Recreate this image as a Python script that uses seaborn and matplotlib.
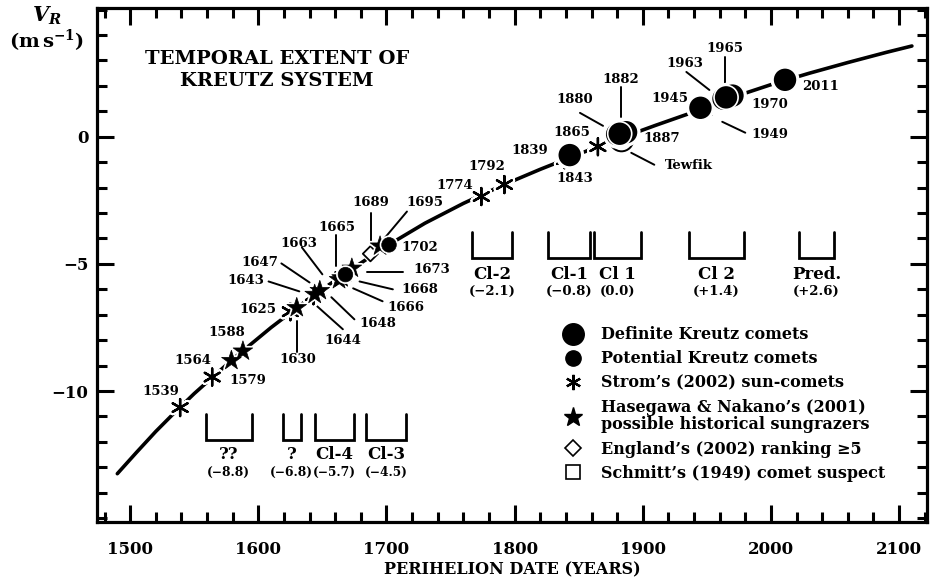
import numpy as np
import pandas as pd
import matplotlib
matplotlib.use("Agg")
import matplotlib.pyplot as plt
import matplotlib.patheffects as pe
from matplotlib.lines import Line2D
from matplotlib.ticker import MultipleLocator, FixedLocator
import seaborn as sns

# smooth V_R trend
curve_year = [1490, 1505, 1520, 1535, 1550, 1580, 1610, 1640, 1670, 1700, 1730, 1760,
              1790, 1820, 1850, 1880, 1910, 1940, 1970, 2000, 2030, 2060, 2090, 2110]
curve_vr = [-13.25, -12.41, -11.59, -10.83, -10.1, -8.75, -7.5, -6.35, -5.3, -4.3,
            -3.4, -2.62, -1.92, -1.28, -0.68, -0.1, 0.45, 0.98, 1.55, 2.05, 2.5,
            2.92, 3.32, 3.57]

# comets by category
strom_year = [1539, 1564, 1625, 1643, 1647, 1666, 1774, 1792, 1839, 1865]
strom_vr = [-10.65, -9.45, -6.88, -6.25, -6.1, -5.5, -2.35, -1.88, -0.9, -0.39]

hn_year = [1579, 1588, 1630, 1644, 1648, 1663, 1665, 1673, 1695]
hn_vr = [-8.8, -8.43, -6.72, -6.2, -6.05, -5.62, -5.55, -5.17, -4.3]

potential_year = [1668, 1702]
potential_vr = [-5.42, -4.25]

definite_year = [1843, 1880, 1887, 1882, 1945, 1963, 1970, 1965, 2011]
definite_vr = [-0.72, 0.1, 0.18, 0.12, 1.14, 1.5, 1.62, 1.55, 2.24]

tewfik_year = [1883]
tewfik_vr = [-0.1]

england_year = [1687.5]
england_vr = [-4.6]

schmitt_year = [1949.5]
schmitt_vr = [1.08]

# year labels: text, x, y
label_text = ["1539", "1564", "1579", "1588", "1625", "1630", "1643", "1647", "1663",
              "1665", "1689", "1695", "1702", "1673", "1668", "1666", "1648", "1644",
              "1774", "1792", "1839", "1843", "1865", "1880", "1882", "1887", "Tewfik",
              "1945", "1963", "1965", "1970", "1949", "2011"]
label_x = [1524, 1549, 1592, 1575, 1600, 1631, 1590, 1601, 1632,
           1661, 1688, 1730, 1726, 1735, 1726, 1715, 1693, 1666,
           1753, 1778, 1812, 1847, 1844.5, 1847, 1883, 1915, 1936,
           1921, 1932.6, 1964, 1999, 1999, 2038.6]
label_y = [-10.0, -8.8, -9.57, -7.69, -6.78, -8.75, -5.65, -4.94, -4.2,
           -3.57, -2.59, -2.59, -4.35, -5.2, -6.0, -6.7, -7.33, -8.0,
           -1.92, -1.18, -0.55, -1.65, 0.16, 1.45, 2.27, -0.08, -1.14,
           1.49, 2.9, 3.49, 1.25, 0.08, 1.96]

# leader lines (x0, y0, x1, y1)
leaders = [(1630, -7.25, 1630, -8.45), (1608, -5.69, 1632, -6.08),
           (1618, -4.98, 1640, -5.73), (1634, -4.35, 1650, -5.41),
           (1661, -3.88, 1661, -5.1), (1688, -2.98, 1688, -4.15),
           (1716, -2.94, 1697, -4.08), (1685, -5.3, 1713, -5.3),
           (1679, -5.69, 1705, -6.0), (1674, -5.96, 1697, -6.47),
           (1657, -6.31, 1675, -7.18), (1646, -6.67, 1666, -7.57),
           (1851, 0.94, 1869, 0.43), (1883, 1.96, 1883, 0.78),
           (1891, -0.63, 1909, -1.1), (1934, 2.55, 1952, 1.84),
           (1964.5, 3.14, 1964.5, 2.12), (1962, 0.59, 1980, 0.16)]

# cluster brackets
upper_names = ["Cl-2", "Cl-1", "Cl 1", "Cl 2", "Pred."]
upper_vals = ["(\u22122.1)", "(\u22120.8)", "(0.0)", "(+1.4)", "(+2.6)"]
upper_start = [1767, 1826, 1862, 1936, 2022]
upper_end = [1798, 1859, 1899, 1979, 2049]

lower_names = ["??", "?", "Cl-4", "Cl-3"]
lower_vals = ["(\u22128.8)", "(\u22126.8)", "(\u22125.7)", "(\u22124.5)"]
lower_start = [1559, 1619, 1644, 1684]
lower_end = [1595, 1633, 1675, 1715]

sns.set_theme(style="ticks", rc={"axes.edgecolor": "black", "xtick.color": "black",
                                 "ytick.color": "black", "text.color": "black",
                                 "axes.labelcolor": "black", "axes.linewidth": 2.3})
plt.rcParams["font.family"] = ["DejaVu Serif"]
plt.rcParams["font.weight"] = "bold"
plt.rcParams["axes.labelweight"] = "bold"

fig = plt.figure(figsize=(9.31, 5.8), dpi=100)
ax = fig.add_axes([0.104, 0.1, 0.892, 0.886])

curve = pd.DataFrame({"year": curve_year, "vr": curve_vr})
sns.lineplot(data=curve, x="year", y="vr", color="black", lw=2.6,
             sort=False, estimator=None, ax=ax, zorder=2)

halo = lambda w: [pe.Stroke(linewidth=w, foreground="white"), pe.Normal()]

sns.scatterplot(x=tewfik_year, y=tewfik_vr, marker="o", s=290, color="white",
                edgecolor="black", linewidth=1.4, ax=ax, zorder=3)
sns.scatterplot(x=schmitt_year, y=schmitt_vr, marker="s", s=80, color="white",
                edgecolor="black", linewidth=1.2, ax=ax, zorder=3)
sns.scatterplot(x=england_year, y=england_vr, marker="D", s=60, color="white",
                edgecolor="black", linewidth=1.3, ax=ax, zorder=4)
ax.collections[-1].set_path_effects(halo(3))
sns.scatterplot(x=strom_year, y=strom_vr, marker=(6, 2, 0), s=150, color="black",
                edgecolor="black", linewidth=1.7, ax=ax, zorder=4)
ax.collections[-1].set_path_effects(halo(5))
sns.scatterplot(x=hn_year, y=hn_vr, marker="*", s=220, color="black",
                edgecolor="black", linewidth=0.5, ax=ax, zorder=5)
ax.collections[-1].set_path_effects(halo(3))
sns.scatterplot(x=potential_year, y=potential_vr, marker="o", s=110, color="black",
                edgecolor="black", linewidth=0.5, ax=ax, zorder=6)
ax.collections[-1].set_path_effects(halo(3))
sns.scatterplot(x=definite_year, y=definite_vr, marker="o", s=300, color="black",
                edgecolor="white", linewidth=1.2, ax=ax, zorder=7)
ax.collections[-1].set_path_effects(halo(3.5))

for x0, y0, x1, y1 in leaders:
    ax.plot([x0, x1], [y0, y1], color="black", lw=1.4, zorder=3)

for t, x, y in zip(label_text, label_x, label_y):
    ax.text(x, y, t, ha="center", va="center", fontsize=9.5, zorder=8)

def brackets(starts, ends, names, vals, top, bot, ny, vy, vsize):
    for a, b, n, v in zip(starts, ends, names, vals):
        ax.plot([a, a, b, b], [top, bot, bot, top], color="black", lw=2, zorder=3,
                solid_joinstyle="miter")
        ax.text((a + b) / 2, ny, n, ha="center", va="center", fontsize=12)
        ax.text((a + b) / 2, vy, v, ha="center", va="center", fontsize=vsize)

brackets(upper_start, upper_end, upper_names, upper_vals, -3.76, -4.75, -5.4, -6.08, 9.5)
brackets(lower_start, lower_end, lower_names, lower_vals, -10.9, -11.92, -12.5, -13.2, 8.8)

ax.text(0.217, 0.879, "TEMPORAL EXTENT OF\nKREUTZ SYSTEM", transform=ax.transAxes,
        ha="center", va="center", fontsize=14, linespacing=1.3)

fig.text(0.05, 0.972, r"$\mathbfit{V}_{\mathbfit{R}}$", ha="center", va="center",
         fontsize=15, math_fontfamily="dejavuserif")
fig.text(0.05, 0.93, r"$\mathbf{(m\,s^{-1})}$", ha="center", va="center",
         fontsize=14, math_fontfamily="dejavuserif")

ax.set_xlim(1474, 2122)
ax.set_ylim(-15.15, 5.06)
ax.xaxis.set_major_locator(MultipleLocator(100))
ax.xaxis.set_minor_locator(MultipleLocator(20))
ax.yaxis.set_major_locator(FixedLocator([-10, -5, 0]))
ax.yaxis.set_minor_locator(MultipleLocator(1))
ax.tick_params(which="both", direction="in", top=True, right=True, width=2.2)
ax.tick_params(which="major", length=12, labelsize=12)
ax.tick_params(axis="x", which="major", pad=14)
ax.tick_params(axis="y", which="major", pad=6)
ax.tick_params(which="minor", length=7)
ax.set_xlabel("PERIHELION DATE (YEARS)", fontsize=11.5, labelpad=2)
ax.set_ylabel("")

handles = [
    Line2D([], [], ls="", marker="o", ms=15.5, color="black"),
    Line2D([], [], ls="", marker="o", ms=11, color="black"),
    Line2D([], [], ls="", marker=(6, 2, 0), ms=11, mew=1.6, color="black"),
    Line2D([], [], ls="", marker="*", ms=14, color="black"),
    Line2D([], [], ls="", marker="D", ms=8, mfc="white", mec="black", mew=1.2),
    Line2D([], [], ls="", marker="s", ms=10, mfc="white", mec="black", mew=1.2),
]
names = ["Definite Kreutz comets", "Potential Kreutz comets",
         "Strom\u2019s (2002) sun-comets",
         "Hasegawa & Nakano\u2019s (2001)\npossible historical sungrazers",
         "England\u2019s (2002) ranking \u22655", "Schmitt\u2019s (1949) comet suspect"]
leg = ax.legend(handles, names, loc="upper left", bbox_to_anchor=(0.5615, 0.381),
                frameon=False, fontsize=11.5, handlelength=1.2, handletextpad=1.2,
                labelspacing=0.45, borderpad=0, borderaxespad=0)
leg.get_texts()[3].set_linespacing(1.05)

fig.savefig("out.png", dpi=100)
